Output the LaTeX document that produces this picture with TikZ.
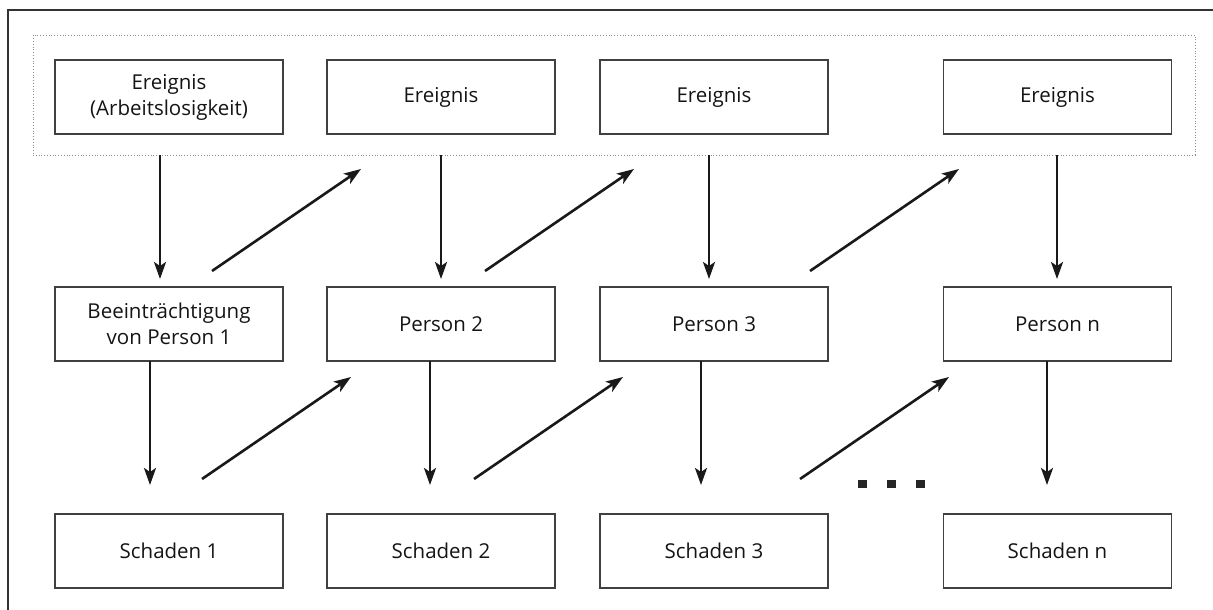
\documentclass[tikz,border=0pt]{standalone}
\usepackage{fontspec}
\setmainfont{Open Sans}
\usetikzlibrary{arrows.meta}
\begin{document}
\begin{tikzpicture}[x=1pt,y=-1pt,
  box/.style={draw=black!75,line width=1.3pt,minimum width=228pt,minimum height=74pt,inner sep=0pt,align=center,font=\fontsize{20.5}{26}\selectfont,text=black!92},
  arr/.style={line width=2.6pt,draw=black!90,-{Stealth[length=17pt,width=12pt,inset=4pt]}},
  frame/.style={line width=1.2pt,draw=black!80},
  group/.style={draw=black!45,dotted,line width=0.8pt},
  dot/.style={fill=black!85,draw=none,minimum width=9pt,minimum height=8pt,inner sep=0pt}]
\useasboundingbox (0,0) rectangle (1213,610);
% outer frame (only top and left visible)
\draw[frame] (8,620) -- (8,10) -- (1223,10);
% dotted group
\node[group,minimum width=1162pt,minimum height=120pt,inner sep=0pt] (grp) at (614,95) {};
% top row
\node[box] (e1) at (169,97) {Ereignis\\(Arbeitslosigkeit)};
\node[box] (e2) at (441,97) {Ereignis};
\node[box] (e3) at (714,97) {Ereignis};
\node[box] (e4) at (1057.5,97) {Ereignis};
% middle row
\node[box] (p1) at (169,324) {Beeinträchtigung\\von Person 1};
\node[box] (p2) at (441,324) {Person 2};
\node[box] (p3) at (714,324) {Person 3};
\node[box] (p4) at (1057.5,324) {Person n};
% bottom row
\node[box] (s1) at (169,551) {Schaden 1};
\node[box] (s2) at (441,551) {Schaden 2};
\node[box] (s3) at (714,551) {Schaden 3};
\node[box] (s4) at (1057.5,551) {Schaden n};
% arrow end points
\coordinate (a1s) at (160,155); \coordinate (a1e) at (160,279);
\coordinate (a2s) at (441,155); \coordinate (a2e) at (441,279);
\coordinate (a3s) at (709,155); \coordinate (a3e) at (709,279);
\coordinate (a4s) at (1057,155); \coordinate (a4e) at (1057,279);
\coordinate (b1s) at (150,361); \coordinate (b1e) at (150,485);
\coordinate (b2s) at (430,361); \coordinate (b2e) at (430,485);
\coordinate (b3s) at (701,361); \coordinate (b3e) at (701,485);
\coordinate (b4s) at (1047,361); \coordinate (b4e) at (1047,485);
\coordinate (c1s) at (212,271); \coordinate (c1e) at (361,169);
\coordinate (c2s) at (485,271); \coordinate (c2e) at (634,169);
\coordinate (c3s) at (810,271); \coordinate (c3e) at (959,169);
\coordinate (d1s) at (202,479); \coordinate (d1e) at (351,377);
\coordinate (d2s) at (474,479); \coordinate (d2e) at (623,377);
\coordinate (d3s) at (800,479); \coordinate (d3e) at (949,377);
% arrows
\foreach \n in {a1,a2,a3,a4,b1,b2,b3,b4,c1,c2,c3,d1,d2,d3}
  \draw[arr] (\n s) -- (\n e);
% dots
\node[dot] (dt1) at (862.5,484) {};
\node[dot] (dt2) at (891.5,484) {};
\node[dot] (dt3) at (920,484) {};
\end{tikzpicture}
\end{document}
